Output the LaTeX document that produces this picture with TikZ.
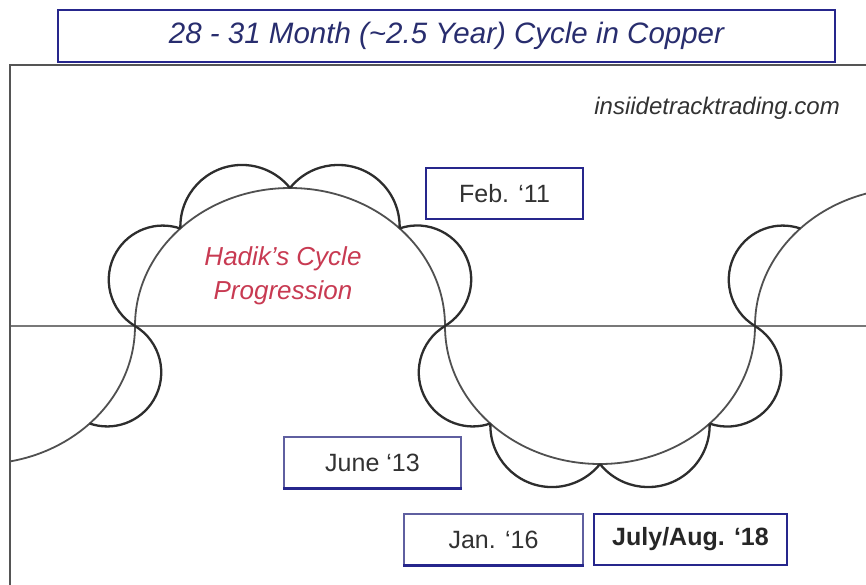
\documentclass[tikz,border=0pt]{standalone}
\usepackage{fontspec}
\setmainfont{Liberation Sans}
\definecolor{navyb}{RGB}{38,38,140}
\definecolor{lightnavy}{RGB}{95,95,160}
\definecolor{titleblue}{RGB}{40,45,110}
\definecolor{hadikred}{RGB}{200,58,82}
\definecolor{curvegray}{RGB}{80,80,80}
\definecolor{petalgray}{RGB}{45,45,45}
\definecolor{axisgray}{RGB}{120,120,120}
\definecolor{framegray}{RGB}{85,85,85}
\definecolor{labelgray}{RGB}{50,50,50}

% petal: #1 ax, #2 ay, #3 bx, #4 by, #5 side sign, #6 sagitta ratio
\newcommand\mypetal[6]{%
  \pgfmathsetmacro\ptlmx{(#1+#3)/2}%
  \pgfmathsetmacro\ptlmy{(#2+#4)/2}%
  \pgfmathsetmacro\ptldd{veclen(#3-#1,#4-#2)/2}%
  \pgfmathsetmacro\ptlux{(#3-#1)/(2*\ptldd)}%
  \pgfmathsetmacro\ptluy{(#4-#2)/(2*\ptldd)}%
  \pgfmathsetmacro\ptlnx{#5*\ptluy}%
  \pgfmathsetmacro\ptlny{-#5*\ptlux}%
  \pgfmathsetmacro\ptlh{#6*\ptldd}%
  \pgfmathsetmacro\ptlr{(\ptldd*\ptldd+\ptlh*\ptlh)/(2*\ptlh)}%
  \pgfmathsetmacro\ptlcx{\ptlmx-(\ptlr-\ptlh)*\ptlnx}%
  \pgfmathsetmacro\ptlcy{\ptlmy-(\ptlr-\ptlh)*\ptlny}%
  \pgfmathsetmacro\ptlta{atan2(#2-\ptlcy,#1-\ptlcx)}%
  \pgfmathsetmacro\ptltb{atan2(#4-\ptlcy,#3-\ptlcx)}%
  \pgfmathsetmacro\ptltb{ifthenelse(\ptltb-\ptlta>180,\ptltb-360,ifthenelse(\ptlta-\ptltb>180,\ptltb+360,\ptltb))}%
  \draw[petalline] (#1,#2) arc[start angle=\ptlta, end angle=\ptltb, radius=\ptlr];%
}

\begin{document}
\begin{tikzpicture}[x=1pt,y=-1pt,
  bigline/.style={draw=curvegray, line width=1.8pt},
  petalline/.style={draw=petalgray, line width=2.3pt},
  axisline/.style={draw=axisgray, line width=2.2pt},
  frameline/.style={draw=framegray, line width=1.5pt},
  titlebox/.style={draw=navyb, line width=2.5pt, fill=white, inner sep=0pt,
    font=\fontsize{29.5}{34}\selectfont\itshape, text=titleblue},
  datebox/.style={draw=navyb, line width=2.3pt, fill=white, inner sep=0pt,
    minimum height=51pt, font=\fontsize{25}{30}\selectfont, text=labelgray},
  lightbox/.style={draw=lightnavy, line width=1.2pt, fill=white, inner sep=0pt,
    minimum height=51pt, font=\fontsize{25}{30}\selectfont, text=labelgray},
  hadik/.style={font=\fontsize{26}{34}\selectfont\itshape, text=hadikred, align=center, inner sep=0pt},
  site/.style={font=\fontsize{24}{28}\selectfont\itshape, text=labelgray, inner sep=0pt}
]
\useasboundingbox (0,0) rectangle (866,584);
\fill[white] (0,0) rectangle (866,584);
\begin{scope}
\clip (10,65) rectangle (866,584);
\draw[axisline] (10,326) -- (866,326);
% big wave of half ellipses
\draw[bigline] (-175,326)
  arc[start angle=180, end angle=0, x radius=155, y radius=138]
  arc[start angle=180, end angle=360, x radius=155, y radius=138]
  arc[start angle=180, end angle=0, x radius=155, y radius=138]
  arc[start angle=180, end angle=360, x radius=155, y radius=138];
% petals
\mypetal{135}{326}{89.6}{423.6}{1}{0.9}
\mypetal{135}{326}{180.4}{228.4}{1}{0.9}
\mypetal{180.4}{228.4}{290}{188}{1}{0.72}
\mypetal{290}{188}{399.6}{228.4}{1}{0.72}
\mypetal{399.6}{228.4}{445}{326}{1}{0.9}
\mypetal{445}{326}{490.4}{423.6}{-1}{0.9}
\mypetal{490.4}{423.6}{600}{464}{-1}{0.72}
\mypetal{600}{464}{709.6}{423.6}{-1}{0.72}
\mypetal{709.6}{423.6}{755}{326}{-1}{0.9}
\mypetal{755}{326}{800.4}{228.4}{1}{0.9}
\end{scope}
\begin{scope}
\clip (0,0) rectangle (866,584);
\draw[frameline] (10,65) rectangle (880,600);
\end{scope}
% title
\node[titlebox, minimum width=777pt, minimum height=52pt] (title) at (446.5,36) {28 - 31 Month (\textasciitilde 2.5 Year) Cycle in Copper};
\node[site, anchor=east] (site) at (840,108) {insiidetracktrading.com};
\node[hadik] (hadik) at (283,276) {Hadik’s Cycle\\Progression};
% date boxes
\node[datebox, minimum width=157pt] (feb) at (504.5,193.5) {Feb. ‘11};
\node[lightbox, minimum width=177pt] (june) at (372.5,462.5) {June ‘13};
\node[lightbox, minimum width=179pt] (jan) at (493.5,539.5) {Jan. ‘16};
\node[datebox, minimum width=193pt, font=\fontsize{25}{30}\selectfont\bfseries, text=black!85] (july) at (690.5,539.5) {July/Aug. ‘18};
\draw[navyb, line width=2.5pt] (june.south west) -- (june.south east);
\draw[navyb, line width=2.5pt] (jan.south west) -- (jan.south east);
\end{tikzpicture}
\end{document}
